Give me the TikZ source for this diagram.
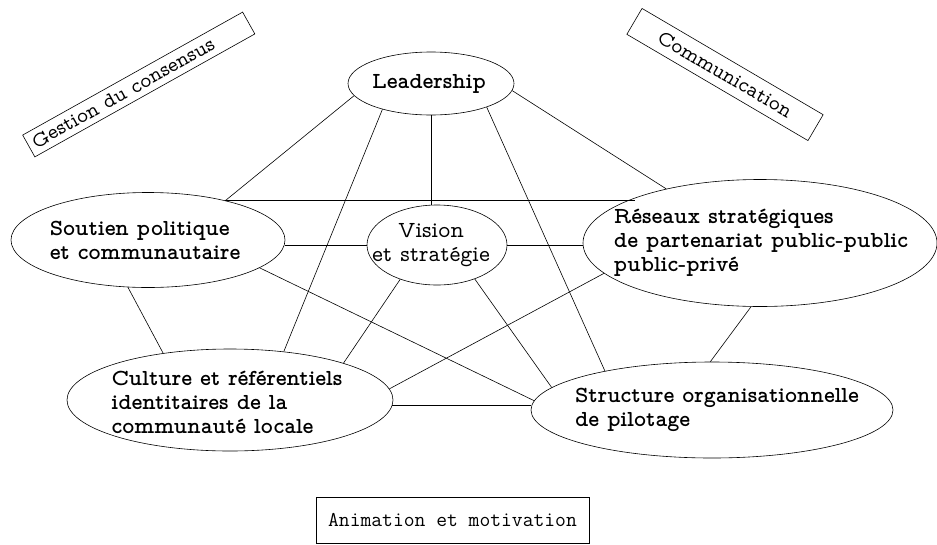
\documentclass[tikz,border=0pt]{standalone}
\usetikzlibrary{shapes.geometric}

% Latin Modern proportional typewriter faces
\newcommand\darkface{\fontfamily{lmvtt}\fontseries{b}\fontsize{23}{24}\selectfont}
\newcommand\lightface{\fontfamily{lmvtt}\fontseries{m}\fontsize{23}{24}\selectfont}
\newcommand\tagface{\fontfamily{lmvtt}\fontseries{m}\fontsize{21}{24}\selectfont}
\newcommand\monoface{\fontfamily{lmtt}\fontseries{m}\fontsize{21}{24}\selectfont}

\begin{document}
\begin{tikzpicture}[x=1pt,y=-1pt,
  bubble/.style={ellipse, draw, line width=0.6pt, inner sep=0pt},
  bubbletext/.style={align=left, inner sep=0pt, font=\darkface},
  link/.style={line width=0.6pt},
  tag/.style={draw, line width=0.6pt, inner sep=0pt, font=\tagface}]

\useasboundingbox (0,0) rectangle (937,544);

% themes
\node[bubble, minimum width=166, minimum height=63,
      label={[bubbletext, xshift=-2pt]center:Leadership}] (L) at (431,83.5) {};
\node[bubble, minimum width=274, minimum height=95,
      label={[bubbletext, xshift=-3pt]center:Soutien politique\\et communautaire}] (S) at (148,240) {};
\node[bubble, minimum width=140, minimum height=80,
      label={[bubbletext, font=\lightface, align=center, xshift=-6pt]center:Vision\\et stratégie}] (V) at (437,245) {};
\node[bubble, minimum width=354, minimum height=127,
      label={[bubbletext, xshift=1pt]center:Réseaux stratégiques\\de partenariat public-public\\public-privé}] (R) at (760,243) {};
\node[bubble, minimum width=326, minimum height=102,
      label={[bubbletext, xshift=-3pt, yshift=-2pt]center:Culture et référentiels\\identitaires de la\\communauté locale}] (C) at (230,400) {};
\node[bubble, minimum width=362, minimum height=96,
      label={[bubbletext, xshift=5pt]center:Structure organisationnelle\\de pilotage}] (T) at (712,410) {};

% framed captions
\node[tag, rotate=29.2, minimum height=25, inner xsep=5pt]
  (G) at (138.75,84.5) {\makebox[242pt][l]{Gestion du consensus}};
\node[tag, rotate=-30.4, minimum width=210, minimum height=30]
  (M) at (725,74.5) {Communication};
\node[tag, font=\monoface, minimum width=273, minimum height=46]
  (A) at (452.5,520) {Animation et motivation};

% links
\draw[link] (L.189.8) -- (S.27.7);
\draw[link] (L.208) -- (C.42);
\draw[link] (L.south) -- (L.south |- V.north);
\draw[link] (L.337) -- (T.160);
\draw[link] (L.355) -- (R.150.4);
\draw[link] (S.27.1) -- (S.27.1 -| R.160);
\draw[link] (V.west) -- (V.west -| S.east);
\draw[link] (V.east) -- (V.east -| R.west);
\draw[link] (S.247) -- (C.145);
\draw[link] (S.346.3) -- (T.177.5);
\draw[link] (V.223.5) -- (C.18.3);
\draw[link] (V.318.8) -- (T.172.2);
\draw[link] (R.191.7) -- (C.4.8);
\draw[link] (R.262.9) -- (T.92.4);
\draw[link] (C.-2.5) -- (C.-2.5 -| T.west);
\end{tikzpicture}
\end{document}
